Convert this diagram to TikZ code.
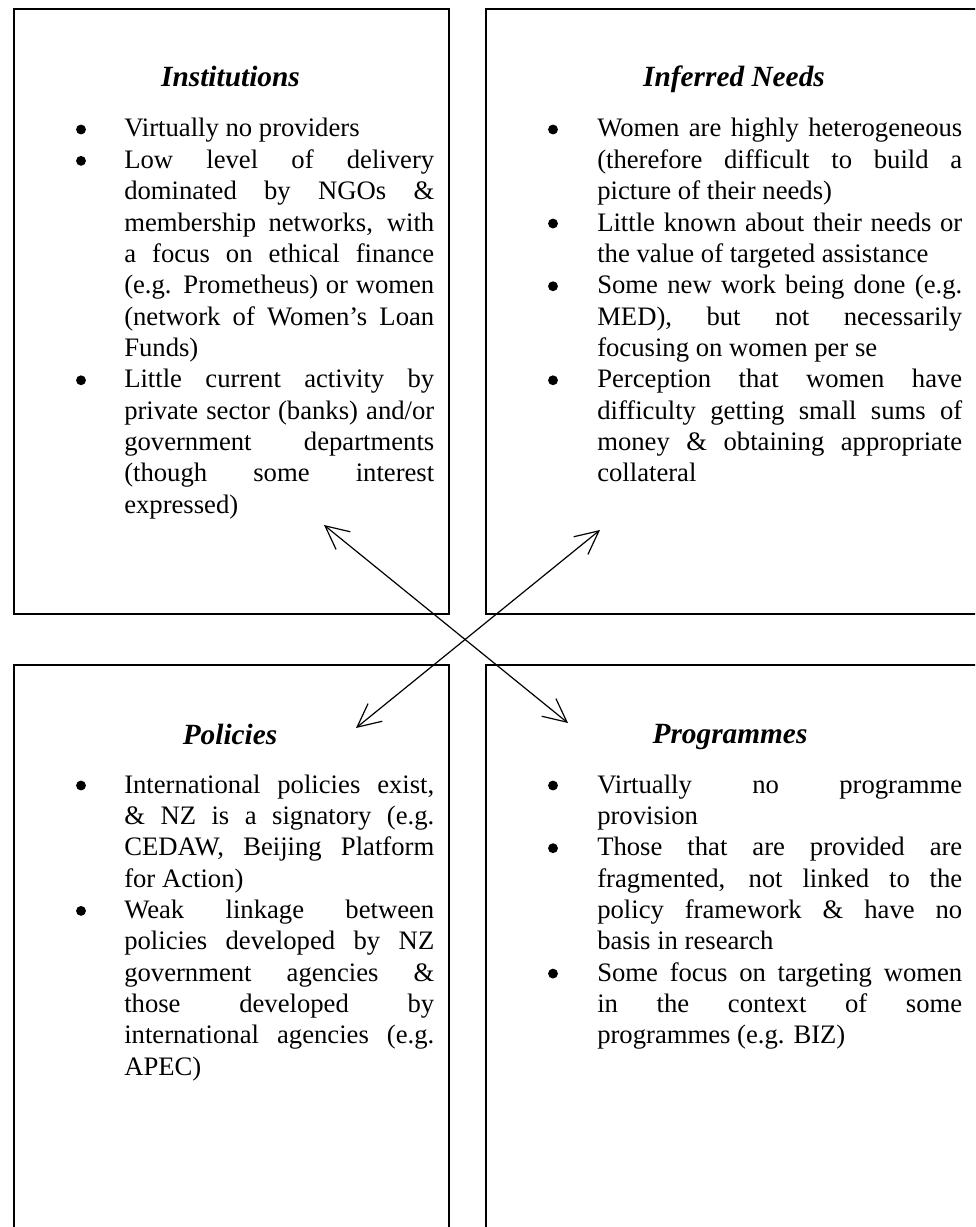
\documentclass[tikz,border=0pt]{standalone}
\usepackage{fontspec}
\setmainfont{Liberation Serif}
\usetikzlibrary{arrows.meta}
\newdimen\px \px=0.75pt
\newcommand{\itm}{\par\noindent}
\newcommand{\boxtext}[2]{\parbox[t]{#1}{\fontsize{20pt}{23.51pt}\selectfont\parindent=0pt\parskip=0pt\tolerance=10000\hbadness=10000\hfuzz=3pt #2}}
\begin{document}
\begin{tikzpicture}[x=0.75pt,y=-0.75pt,
  box/.style={draw, line width=0.8pt},
  title/.style={anchor=base, inner sep=0pt, font=\fontsize{22pt}{26pt}\selectfont\bfseries\itshape},
  body/.style={anchor=base west, inner sep=0pt},
  dot/.style={fill=black},
  barb/.tip={Straight Barb[length=17.5pt,width=17pt]},
  conn/.style={line width=0.9pt, barb-barb}]
\useasboundingbox (0,0) rectangle (975,1227);
\clip (0,0) rectangle (975,1227);
% boxes
\draw[box] (14,9) rectangle (449,614);
\draw[box] (486,9) rectangle (978,614);
\draw[box] (14,665) rectangle (449,1240);
\draw[box] (486,665) rectangle (978,1240);
% titles
\node[title] (tInst) at (230.5,87) {Institutions};
\node[title] (tNeed) at (734,87) {Inferred Needs};
\node[title] (tPol) at (230,744) {Policies};
\node[title] (tProg) at (730,743) {Programmes};
% bodies
\node[body] (bInst) at (124,137) {\boxtext{310\px}{%
\itm Virtually no providers
\itm Low level of delivery\linebreak dominated by NGOs \&\linebreak membership networks, with\linebreak a focus on ethical finance\linebreak (e.g. Prometheus) or women\linebreak (network of Women’s Loan\linebreak Funds)
\itm Little current activity by\linebreak private sector (banks) and/or\linebreak government departments\linebreak (though some interest\linebreak expressed)}};
\node[body] (bNeed) at (597,137) {\boxtext{365\px}{%
\itm Women are highly heterogeneous\linebreak (therefore difficult to build a\linebreak picture of their needs)
\itm Little known about their needs or\linebreak the value of targeted assistance
\itm Some new work being done (e.g.\linebreak MED), but not necessarily\linebreak focusing on women per se
\itm Perception that women have\linebreak difficulty getting small sums of\linebreak money \& obtaining appropriate\linebreak collateral}};
\node[body] (bPol) at (124,793) {\boxtext{310\px}{%
\itm International policies exist,\linebreak \& NZ is a signatory (e.g.\linebreak CEDAW, Beijing Platform\linebreak for Action)
\itm Weak linkage between\linebreak policies developed by NZ\linebreak government agencies \&\linebreak those developed by\linebreak international agencies (e.g.\linebreak APEC)}};
\node[body] (bProg) at (597,793) {\boxtext{365\px}{%
\itm Virtually no programme\linebreak provision
\itm Those that are provided are\linebreak fragmented, not linked to the\linebreak policy framework \& have no\linebreak basis in research
\itm Some focus on targeting women\linebreak in the context of some\linebreak programmes (e.g. BIZ)}};
% bullets
\foreach \k in {0,1,8} \fill[dot] (81,{137+31.347*\k-7.5}) circle[radius=3.7pt];
\foreach \k in {0,3,5,8} \fill[dot] (553,{137+31.347*\k-7.5}) circle[radius=3.7pt];
\foreach \k in {0,4} \fill[dot] (81,{793+31.347*\k-7.5}) circle[radius=3.7pt];
\foreach \k in {0,2,6} \fill[dot] (553,{793+31.347*\k-7.5}) circle[radius=3.7pt];
% arrows
\coordinate (a1) at (324,525);
\coordinate (b1) at (568,723);
\coordinate (a2) at (600,530);
\coordinate (b2) at (356,728);
\draw[conn] (a1) -- (b1);
\draw[conn] (a2) -- (b2);
\end{tikzpicture}
\end{document}
